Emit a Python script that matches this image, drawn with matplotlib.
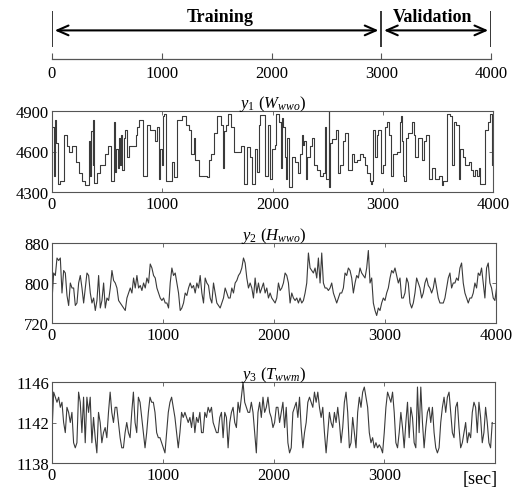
import numpy as np
import matplotlib
matplotlib.use('Agg')
import matplotlib.pyplot as plt

plt.rcParams['font.family'] = ['Liberation Serif', 'DejaVu Serif']
plt.rcParams['mathtext.fontset'] = 'custom'
plt.rcParams['mathtext.rm'] = 'Liberation Serif'
plt.rcParams['mathtext.it'] = 'Liberation Serif:italic'

# ---------------- data ----------------
x_ticks = [0, 1000, 2000, 3000, 4000]
phase_bounds = [0, 3000, 4000]
phase_names = ['Training', 'Validation']

# y1 (W_wwo): step signal, change times [s] and levels
y1_t = [0, 15, 24, 39, 52, 76, 106, 136, 158, 182, 221, 242, 273, 303, 333, 348, 358, 370, 376, 385,
        409, 439, 485, 506, 536, 561, 573, 585, 597, 606, 615, 627, 639, 652, 664, 676, 697, 758, 773, 788,
        827, 864, 888, 930, 955, 967, 979, 997, 1003, 1015, 1030, 1091, 1106, 1136, 1182, 1212, 1242, 1258,
        1288, 1300, 1333, 1409, 1424, 1445, 1470, 1500, 1530, 1548, 1561, 1576, 1597, 1621, 1651, 1712,
        1742, 1773, 1797, 1818, 1839, 1855, 1879, 1891, 1930, 1961, 1976, 1994, 2021, 2036, 2061, 2073,
        2085, 2097, 2112, 2121, 2127, 2133, 2152, 2173, 2203, 2233, 2248, 2264, 2273, 2285, 2303, 2315,
        2339, 2358, 2376, 2400, 2430, 2455, 2473, 2485, 2509, 2515, 2521, 2536, 2576, 2597, 2612, 2636,
        2658, 2688, 2718, 2739, 2764, 2794, 2818, 2839, 2861, 2885, 2894, 2903, 2915, 2930, 2945, 2961,
        2982, 3006, 3021, 3042, 3061, 3073, 3091, 3127, 3152, 3164, 3176, 3188, 3194, 3212, 3233, 3264,
        3279, 3294, 3324, 3355, 3370, 3394, 3415, 3445, 3476, 3506, 3536, 3551, 3582, 3612, 3627, 3642,
        3667, 3688, 3703, 3727, 3748, 3779, 3800, 3818, 3839, 3855, 3870, 3885, 3930, 3952, 3970, 3991, 4000]
y1_v = [4780, 4420, 4830, 4660, 4360, 4380, 4720, 4640, 4600, 4640, 4520, 4440, 4380, 4350, 4680, 4420, 4750, 4500, 4830, 4370,
        4440, 4500, 4580, 4640, 4380, 4820, 4450, 4620, 4480, 4700, 4500, 4720, 4460, 4700, 4760, 4560, 4640, 4720, 4780, 4830,
        4420, 4800, 4760, 4680, 4780, 4400, 4620, 4500, 4860, 4880, 4380, 4520, 4410, 4830, 4860, 4800, 4760, 4580,
        4700, 4540, 4420, 4410, 4540, 4580, 4740, 4860, 4800, 4480, 4750, 4800, 4880, 4780, 4600, 4640,
        4360, 4630, 4560, 4360, 4620, 4450, 4800, 4870, 4420, 4800, 4400, 4620, 4650, 4880, 4820, 4480,
        4850, 4780, 4560, 4400, 4560, 4700, 4340, 4560, 4520, 4440, 4580, 4720, 4650, 4680, 4400, 4560,
        4640, 4700, 4500, 4460, 4420, 4440, 4780, 4400, 4900, 4340, 4660, 4690, 4760, 4440, 4500, 4680,
        4740, 4460, 4580, 4520, 4540, 4580, 4560, 4500, 4440, 4380, 4360, 4380, 4760, 4560, 4720, 4760,
        4440, 4500, 4780, 4820, 4720, 4420, 4580, 4600, 4820, 4860, 4680, 4420, 4380, 4700, 4740, 4820,
        4720, 4560, 4700, 4540, 4680, 4720, 4400, 4480, 4400, 4420, 4350, 4380, 4880, 4860, 4500, 4820,
        4800, 4400, 4620, 4560, 4500, 4520, 4460, 4420, 4460, 4420, 4480, 4360, 4760, 4820, 4880, 4500, 4500]

# y2 (H_wwo): sampled every ~15 s
y2_v = [765, 820, 815, 850, 845, 850, 780, 825, 820, 775, 755, 800, 790, 790, 755, 760, 800, 815, 790, 760,
        790, 820, 815, 780, 760, 770, 745, 765, 815, 750, 765, 800, 750, 770, 765, 790, 825, 805, 800, 790,
        765, 760, 755, 750, 745, 770, 780, 790, 780, 810, 790, 815, 790, 795, 785, 800, 790, 810, 800, 838,
        830, 815, 810, 790, 780, 770, 765, 770, 760, 760, 750, 800, 830, 815, 820, 800, 780, 745, 750, 760,
        780, 775, 790, 800, 790, 795, 780, 800, 790, 815, 780, 760, 810, 800, 795, 770, 760, 800, 780, 760,
        755, 750, 760, 770, 790, 780, 770, 770, 790, 780, 800, 805, 815, 820, 830, 850, 840, 810, 790, 800,
        790, 770, 810, 780, 800, 780, 790, 800, 780, 790, 770, 780, 770, 765, 760, 770, 800, 785, 790, 800,
        820, 815, 800, 760, 780, 770, 765, 770, 760, 770, 760, 765, 780, 800, 860, 830, 825, 820, 830, 810,
        850, 800, 860, 800, 790, 790, 785, 790, 800, 780, 770, 760, 770, 780, 780, 790, 820, 815, 830, 825,
        810, 780, 800, 815, 810, 830, 820, 815, 810, 830, 865, 800, 810, 760, 745, 735, 750, 745, 760, 770,
        765, 780, 790, 810, 825, 820, 830, 815, 800, 810, 770, 770, 780, 810, 800, 760, 750, 760, 780, 810,
        800, 790, 770, 780, 800, 810, 795, 790, 780, 790, 810, 790, 770, 760, 760, 760, 770, 790, 810, 820,
        790, 800, 800, 810, 805, 830, 840, 800, 780, 770, 760, 770, 770, 780, 800, 790, 820, 815, 830, 800,
        770, 830, 840, 800, 790, 770, 765, 790]

# y3 (T_wwm): sampled every ~15 s
y3_v = [1141, 1145, 1144.5, 1144, 1144.5, 1143.5, 1144, 1142, 1141, 1143.5, 1143, 1142, 1143, 1140, 1139.5, 1140,
        1145, 1144, 1141, 1144.5, 1140, 1144.5, 1143, 1144.5, 1140, 1142.5, 1140.5, 1139, 1143, 1142, 1140, 1141,
        1141.5, 1140.5, 1143, 1145, 1143, 1142, 1143.5, 1143.5, 1142, 1140.5, 1139.5, 1139.5, 1141, 1142, 1141,
        1140.5, 1143, 1145, 1142, 1141, 1144.5, 1144, 1142.5, 1141, 1139.5, 1141, 1143, 1144.5, 1144, 1144, 1143,
        1141, 1140.5, 1140.5, 1140, 1139.5, 1139, 1141, 1143, 1144, 1144.5, 1143.5, 1142.5, 1141, 1139.5, 1141,
        1143, 1142.5, 1143, 1142.5, 1142, 1142.5, 1141.5, 1143, 1141, 1142.5, 1142, 1143, 1141, 1141, 1143,
        1142.5, 1143.5, 1143, 1143.5, 1142, 1141.5, 1141, 1141, 1142.5, 1143, 1140.5, 1143, 1142.5, 1139.5, 1142,
        1143, 1143.5, 1142, 1141.5, 1144, 1143, 1144.5, 1146, 1144, 1143.5, 1143,
        1143, 1144, 1143, 1141, 1139, 1143, 1144, 1142.5, 1144.5, 1143, 1143.5, 1144.5, 1143, 1142.5, 1141.5,
        1142, 1143.5, 1143.5, 1142, 1143, 1144, 1141.5, 1143.5, 1140, 1139, 1139.5, 1143, 1143.5, 1144, 1142.5,
        1144.5, 1141.5, 1139.5, 1141, 1142, 1144, 1144.5, 1144, 1143.5, 1145, 1144, 1145, 1143.5, 1142.5, 1143.5,
        1141, 1139, 1141, 1143, 1142, 1141.5, 1143, 1142, 1143.5, 1142, 1140, 1141.5, 1144, 1145, 1143, 1139.5,
        1140, 1142.5, 1141, 1139.5, 1143, 1144.5, 1143.5, 1145, 1145.5, 1144.5, 1143.5, 1141, 1140, 1140.5,
        1139.5, 1140, 1139.5, 1139.8, 1139.5, 1139, 1141, 1143.5, 1145, 1144.5, 1144, 1145, 1143, 1140, 1139.5,
        1141, 1143, 1141.5, 1139.5, 1142, 1144, 1140.5, 1143.5, 1142.5, 1140, 1139.5, 1145.5, 1141, 1145.5, 1142,
        1139.5, 1141.5, 1143, 1143.5, 1142, 1143.5, 1141, 1139.5, 1139, 1139.5, 1142, 1143.5, 1144.5, 1143,
        1144.5, 1145, 1143, 1141, 1140.5, 1143.5, 1144, 1141.5, 1139.5, 1140, 1141, 1142, 1140, 1141, 1140.5,
        1143, 1144, 1143.5, 1141, 1144, 1142.5, 1140, 1141, 1143.5, 1142, 1140, 1139.5, 1142]

SAMPLE_SEC = 15
y2_t = np.arange(len(y2_v)) * SAMPLE_SEC
y3_t = np.arange(len(y3_v)) * SAMPLE_SEC

panels = [
    dict(t=y1_t, v=y1_v, title=r'$y_1$ ($W_{wwo}$)', ylim=(4300, 4900), yticks=[4300, 4600, 4900], steps=True),
    dict(t=y2_t, v=y2_v, title=r'$y_2$ ($H_{wwo}$)', ylim=(720, 880), yticks=[720, 800, 880], steps=False),
    dict(t=y3_t, v=y3_v, title=r'$y_3$ ($T_{wwm}$)', ylim=(1138, 1146), yticks=[1138, 1142, 1146], steps=False),
]

# ---------------- figure ----------------
W, H = 518, 489
fig = plt.figure(figsize=(W / 100, H / 100), dpi=100)

def ax_px(l, t, r, b):
    return fig.add_axes([l / W, 1 - b / H, (r - l) / W, (b - t) / H])

FRAME = '#555555'
LINE = '#3a3a3a'
FS = 12

# timeline axis
ax0 = ax_px(52, 8, 491, 60)
ax0.set_xlim(0, 4000)
ax0.set_ylim(0, 1)
for s in ['top', 'right', 'left']:
    ax0.spines[s].set_visible(False)
ax0.spines['bottom'].set_color(FRAME)
ax0.spines['bottom'].set_linewidth(0.9)
ax0.set_yticks([])
ax0.set_xticks(x_ticks)
ax0.tick_params(axis='x', direction='in', length=4, width=0.8, color=FRAME, labelsize=FS, pad=4)
ax0.vlines(phase_bounds, 0.23, 0.92, color='black', lw=1.1)
for (a, b), name in zip(zip(phase_bounds[:-1], phase_bounds[1:]), phase_names):
    ax0.annotate('', xy=(b, 0.55), xytext=(a, 0.55),
                 arrowprops=dict(arrowstyle='<->,head_length=0.8,head_width=0.35', lw=1.5,
                                 color='black', shrinkA=2, shrinkB=2))
ax0.text(1530, 0.81, phase_names[0], ha='center', va='center', fontsize=13, fontweight='bold')
ax0.text(3470, 0.81, phase_names[1], ha='center', va='center', fontsize=13, fontweight='bold')

boxes = [(52, 112, 493, 193), (52, 244, 496, 324), (52, 383, 495, 464)]
for p, (l, t, r, b) in zip(panels, boxes):
    ax = ax_px(l, t, r, b)
    ax.plot(p['t'], p['v'], color=LINE, lw=0.8, drawstyle='steps-post' if p['steps'] else 'default')
    ax.set_xlim(0, 4000)
    ax.set_ylim(*p['ylim'])
    ax.set_xticks(x_ticks)
    ax.set_yticks(p['yticks'])
    ax.tick_params(direction='in', top=True, right=True, length=3, width=0.6, color=FRAME,
                   labelsize=FS)
    ax.tick_params(axis='x', pad=3)
    ax.tick_params(axis='y', pad=2)
    for s in ax.spines.values():
        s.set_color(FRAME)
        s.set_linewidth(0.8)
    ax.set_title(p['title'], fontsize=FS, pad=3)
    last_ax = ax

last_ax.set_xticklabels([str(v) for v in x_ticks[:-1]] + [''])
last_ax.text(3870, -0.09, '[sec]', transform=last_ax.get_xaxis_transform(), ha='center', va='top', fontsize=13)

fig.savefig('out.png', dpi=100)
